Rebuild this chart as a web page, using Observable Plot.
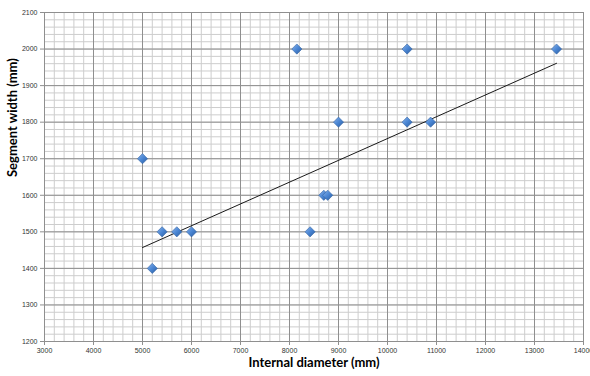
<!DOCTYPE html>
<html><head><meta charset="utf-8">
<script src="https://cdn.jsdelivr.net/npm/d3@7"></script>
<script src="https://cdn.jsdelivr.net/npm/@observablehq/plot@0.6"></script>
<style>body{margin:0;background:#fff}</style>
</head><body><div id="chart"></div>
<script>
// Data
const internalDiameter = [5000, 5200, 5400, 5700, 6000, 8150, 8420, 8700, 8780, 9000, 10400, 10400, 10880, 13450];
const segmentWidth     = [1700, 1400, 1500, 1500, 1500, 2000, 1500, 1600, 1600, 1800, 2000, 1800, 1800, 2000];
const trendDiameter = [5000, 13450];
const trendWidth    = [1457, 1961];
const xTicks = [3000, 4000, 5000, 6000, 7000, 8000, 9000, 10000, 11000, 12000, 13000, 14000];
const yTicks = [1200, 1300, 1400, 1500, 1600, 1700, 1800, 1900, 2000, 2100];
const xMinor = d3.range(3000, 14001, 200);
const yMinor = d3.range(1200, 2101, 20);

const points = internalDiameter.map((d, i) => ({x: d, y: segmentWidth[i]}));
const trend = trendDiameter.map((d, i) => ({x: d, y: trendWidth[i]}));

const plot = Plot.plot({
  width: 590, height: 376,
  marginLeft: 44, marginRight: 7, marginTop: 12, marginBottom: 35,
  style: {fontFamily: "Liberation Sans, sans-serif", background: "#fff"},
  x: {domain: [3000, 14000]},
  y: {domain: [1200, 2100]},
  marks: [
    Plot.ruleX(xMinor, {stroke: "#cdcdcd", strokeWidth: 1}),
    Plot.ruleY(yMinor, {stroke: "#cdcdcd", strokeWidth: 1}),
    Plot.ruleX(xTicks, {stroke: "#8f8f8f", strokeWidth: 1}),
    Plot.ruleY(yTicks, {stroke: "#8f8f8f", strokeWidth: 1}),
    Plot.axisY({ticks: yTicks, tickSize: 4, tickPadding: 3, fontSize: 7, stroke: "#8f8f8f", fill: "#333", tickFormat: d => String(d), label: null}),
    Plot.axisX({ticks: xTicks, tickSize: 4, tickPadding: 3, fontSize: 7, stroke: "#8f8f8f", fill: "#333", tickFormat: d => String(d), label: null}),
    Plot.line(trend, {x: "x", y: "y", stroke: "#1a1a1a", strokeWidth: 1}),
    Plot.dot(points, {x: "x", y: "y", symbol: "diamond2", r: 4.6, fill: "url(#dg)", stroke: "#3465a4", strokeWidth: 0.6}),
    Plot.text(["Internal diameter (mm)"], {frameAnchor: "bottom", dy: 25, fontSize: 13, fontWeight: "bold", fontFamily: "Lato", fill: "#000"}),
    Plot.text(["Segment width (mm)"], {frameAnchor: "left", dx: -32, rotate: -90, fontSize: 13, fontWeight: "bold", fontFamily: "Lato", fill: "#000"})
  ]
});

d3.select(plot).append("defs").html(
  '<linearGradient id="dg" x1="0" y1="0" x2="1" y2="1">' +
  '<stop offset="0" stop-color="#8db4e8"/>' +
  '<stop offset="0.5" stop-color="#4a86d4"/>' +
  '<stop offset="1" stop-color="#2b5b9c"/>' +
  '</linearGradient>');

document.getElementById("chart").appendChild(plot);
</script>
</body></html>
